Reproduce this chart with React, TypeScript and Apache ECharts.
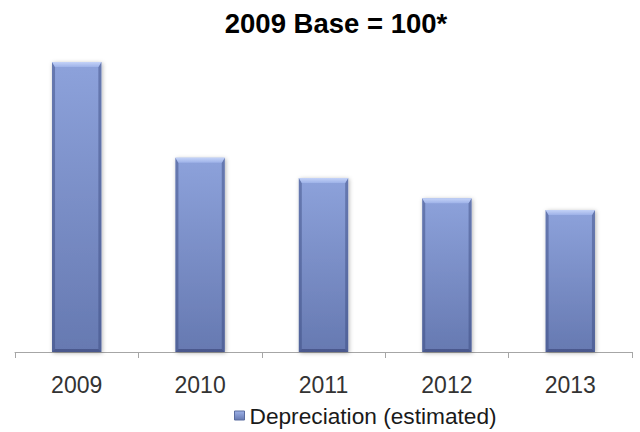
import { useEffect, useRef } from "react";
import * as echarts from "echarts";

const years = ["2009", "2010", "2011", "2012", "2013"];
const depreciation = [100, 67, 60, 53, 49];
const seriesName = "Depreciation (estimated)";
const titleText = "2009 Base = 100*";

const FONT = "'Liberation Sans', Arial, sans-serif";

export default function App() {
  const ref = useRef<HTMLDivElement>(null);

  useEffect(() => {
    const chart = echarts.init(ref.current!, null, { renderer: "svg" });

    // Bevelled column: gradient body, light top facet, shaded sides and base
    const renderItem = (_params: any, api: any) => {
      const idx = api.value(0);
      const top = api.coord([idx, api.value(1)]);
      const base = api.coord([idx, 0]);
      const band = api.size([1, 0])[0];
      const w = band * 0.4;
      const x = top[0] - w / 2;
      const y = top[1];
      const h = base[1] - top[1];
      const b = 5;
      const s = 3;
      return {
        type: "group",
        children: [
          {
            type: "rect",
            shape: { x, y, width: w, height: h },
            style: {
              fill: new echarts.graphic.LinearGradient(0, 0, 0, 1, [
                { offset: 0, color: "#8DA2DB" },
                { offset: 1, color: "#6679B1" },
              ]),
              shadowBlur: 4,
              shadowColor: "rgba(0,0,0,0.3)",
              shadowOffsetX: 1,
              shadowOffsetY: 1,
            },
          },
          {
            type: "polygon",
            shape: { points: [[x, y], [x + s, y + b], [x + s, y + h - s], [x, y + h]] },
            style: { fill: "rgba(55,70,125,0.45)" },
          },
          {
            type: "polygon",
            shape: { points: [[x + w, y], [x + w - s, y + b], [x + w - s, y + h - s], [x + w, y + h]] },
            style: { fill: "rgba(55,70,125,0.45)" },
          },
          {
            type: "polygon",
            shape: { points: [[x, y + h], [x + s, y + h - s], [x + w - s, y + h - s], [x + w, y + h]] },
            style: { fill: "rgba(45,55,105,0.5)" },
          },
          {
            type: "polygon",
            shape: { points: [[x, y], [x + w, y], [x + w - s, y + b], [x + s, y + b]] },
            style: {
              fill: new echarts.graphic.LinearGradient(0, 0, 0, 1, [
                { offset: 0, color: "#C4D3F8" },
                { offset: 1, color: "#9EB2E8" },
              ]),
            },
          },
        ],
      };
    };

    chart.setOption({
      animation: false,
      backgroundColor: "#ffffff",
      title: {
        text: titleText,
        left: 336,
        textAlign: "center",
        top: 9,
        padding: 0,
        textStyle: { fontFamily: FONT, fontSize: 27.5, fontWeight: "bold", color: "#000000" },
      },
      legend: {
        data: [
          {
            name: seriesName,
            itemStyle: {
              color: new echarts.graphic.LinearGradient(0, 0, 0, 1, [
                { offset: 0, color: "#9DB1E8" },
                { offset: 1, color: "#6679B1" },
              ]),
              borderColor: "#5A6C9F",
              borderWidth: 1,
            },
          },
        ],
        left: 234,
        top: 404,
        padding: 0,
        icon: "rect",
        itemWidth: 10,
        itemHeight: 9,
        itemGap: 5,
        textStyle: { fontFamily: FONT, fontSize: 22.7, color: "#1a1a1a", padding: [0, 0, 0, 0] },
      },
      grid: { left: 15, right: 8, top: 62, bottom: 80, containLabel: false },
      xAxis: {
        type: "category",
        data: years,
        boundaryGap: true,
        axisLine: { show: true, lineStyle: { color: "#A6A6A6", width: 1 } },
        axisTick: { show: true, length: 6, alignWithLabel: false, lineStyle: { color: "#A6A6A6" } },
        axisLabel: { fontFamily: FONT, fontSize: 23, color: "#333333", margin: 21 },
      },
      yAxis: {
        type: "value",
        min: 0,
        max: 100,
        show: false,
        splitLine: { show: false },
      },
      series: [
        {
          name: seriesName,
          type: "custom",
          renderItem,
          encode: { x: 0, y: 1 },
          itemStyle: { color: "#7B8FC9" },
          data: years.map((_, i) => [i, depreciation[i]]),
        },
      ],
    });

    return () => chart.dispose();
  }, []);

  return (
    <div
      ref={ref}
      style={{ position: "fixed", left: 0, top: 0, width: 640, height: 432 }}
    />
  );
}
